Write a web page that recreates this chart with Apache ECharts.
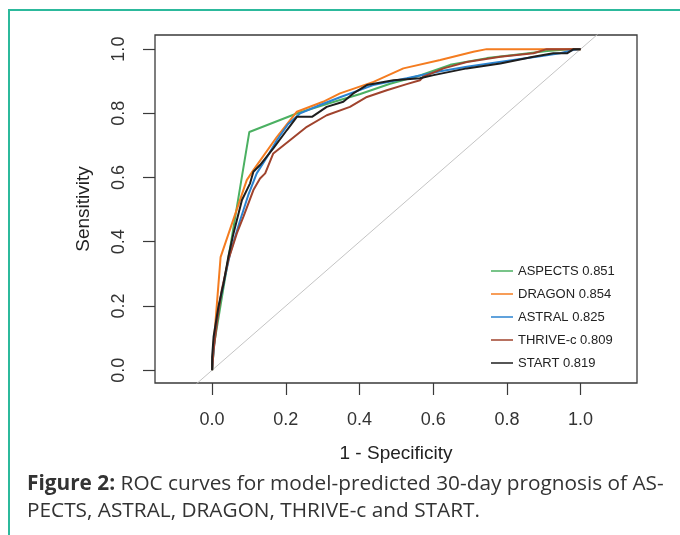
<!DOCTYPE html>
<html>
<head>
<meta charset="utf-8">
<script src="https://cdn.jsdelivr.net/npm/echarts@6/dist/echarts.min.js"></script>
<style>
  html, body { margin: 0; padding: 0; background: #fff; }
  #wrap { position: relative; width: 680px; height: 535px; overflow: hidden; }
  #chart { position: absolute; left: 0; top: 0; width: 680px; height: 535px; }
  #frame { position: absolute; left: 8px; top: 9px; width: 680px; height: 540px;
           border-left: 2px solid #2cb99c; border-top: 2px solid #2cb99c; pointer-events: none; }
  #caption { position: absolute; left: 27px; top: 469px; width: 650px; white-space: nowrap;
             font-family: "Open Sans", sans-serif; font-size: 20.8px; line-height: 27px; color: #333; }
</style>
</head>
<body>
<div id="wrap">
  <div id="chart"></div>
  <div id="frame"></div>
  <div id="caption"><b>Figure 2:</b> ROC curves for model-predicted 30-day prognosis of AS-<br>PECTS, ASTRAL, DRAGON, THRIVE-c and START.</div>
</div>
<script>
// ROC points: [1 - specificity, sensitivity]
const aspects = [[0,0],[0.005,0.078],[0.101,0.742],[0.233,0.801],[0.32,0.832],[0.402,0.86],
  [0.483,0.892],[0.564,0.918],[0.646,0.951],[0.746,0.972],[0.836,0.984],[0.909,0.994],[0.98,1],[1,1]];
const dragon = [[0,0],[0.003,0.07],[0.008,0.134],[0.023,0.352],[0.094,0.592],[0.112,0.623],
  [0.176,0.727],[0.23,0.805],[0.301,0.836],[0.347,0.862],[0.438,0.898],[0.519,0.94],
  [0.619,0.966],[0.709,0.992],[0.745,1],[1,1]];
const astral = [[0,0],[0.003,0.047],[0.008,0.109],[0.019,0.202],[0.033,0.28],[0.049,0.364],
  [0.076,0.467],[0.098,0.545],[0.121,0.613],[0.147,0.66],[0.176,0.717],[0.206,0.766],
  [0.239,0.8],[0.293,0.826],[0.347,0.85],[0.437,0.888],[0.528,0.909],[0.619,0.931],
  [0.691,0.945],[0.817,0.966],[0.89,0.978],[0.944,0.987],[0.98,0.997],[1,1]];
const thrive = [[0,0],[0.004,0.062],[0.014,0.156],[0.026,0.249],[0.044,0.343],[0.067,0.426],
  [0.085,0.478],[0.112,0.561],[0.13,0.597],[0.144,0.613],[0.166,0.675],[0.212,0.717],
  [0.257,0.758],[0.311,0.794],[0.374,0.82],[0.42,0.851],[0.474,0.872],[0.528,0.891],
  [0.564,0.903],[0.573,0.914],[0.628,0.94],[0.691,0.96],[0.782,0.976],[0.872,0.987],
  [0.908,1],[1,1]];
const start = [[0,0],[0,0.041],[0.004,0.104],[0.017,0.197],[0.031,0.27],[0.044,0.353],
  [0.058,0.426],[0.081,0.53],[0.103,0.582],[0.112,0.618],[0.13,0.639],[0.166,0.691],
  [0.203,0.748],[0.23,0.789],[0.271,0.789],[0.311,0.82],[0.356,0.836],[0.383,0.862],
  [0.42,0.888],[0.492,0.903],[0.564,0.909],[0.601,0.919],[0.691,0.94],[0.782,0.955],
  [0.872,0.976],[0.926,0.987],[0.963,0.987],[0.981,1],[1,1]];
const chance = [[-0.2,-0.2],[1.2,1.2]];

const models = ['ASPECTS', 'DRAGON', 'ASTRAL', 'THRIVE-c', 'START'];
const aucs = ['0.851', '0.854', '0.825', '0.809', '0.819'];
const colors = ['#4bb062', '#f47c20', '#2b83d0', '#a0432d', '#1e1e1e'];
const curves = [aspects, dragon, astral, thrive, start];
const ticks = [0, 0.2, 0.4, 0.6, 0.8, 1.0];

const names = models.map((m, i) => m + ' ' + aucs[i]);
const font = '"Liberation Sans", Arial, sans-serif';

const chart = echarts.init(document.getElementById('chart'), null, { renderer: 'canvas' });

const series = [{
  type: 'line', name: 'chance', data: chance, symbol: 'none', silent: true,
  lineStyle: { color: '#c4c4c4', width: 1 }, z: 1
}];
curves.forEach((c, i) => {
  series.push({
    type: 'line', name: names[i], data: c, symbol: 'none', showSymbol: false,
    lineStyle: { color: colors[i], width: 2 }, itemStyle: { color: colors[i] }, z: 2 + i
  });
});

chart.setOption({
  animation: false,
  backgroundColor: 'transparent',
  grid: { left: 155, top: 35, width: 482, height: 348, show: true,
          borderColor: '#3a3a3a', borderWidth: 1.3, backgroundColor: 'transparent' },
  legend: {
    data: names, orient: 'vertical', left: 491, top: 264,
    icon: 'rect', itemWidth: 22, itemHeight: 1.5, itemGap: 9, padding: 0,
    textStyle: { fontFamily: font, fontSize: 13, color: '#222', lineHeight: 14 }
  },
  xAxis: {
    type: 'value', min: -0.155, max: 1.153,
    name: '1 - Specificity', nameLocation: 'middle', nameGap: 61,
    nameTextStyle: { fontFamily: font, fontSize: 19, color: '#222' },
    axisLine: { show: false, onZero: false },
    splitLine: { show: false },
    axisTick: { show: true, length: 12, customValues: ticks, lineStyle: { color: '#3a3a3a', width: 1.2 } },
    axisLabel: { customValues: ticks, margin: 28, fontFamily: font, fontSize: 18, color: '#333',
                 formatter: v => v.toFixed(1) }
  },
  yAxis: {
    type: 'value', min: -0.04, max: 1.044,
    name: 'Sensitivity', nameLocation: 'middle', nameGap: 62, nameRotate: 90,
    nameTextStyle: { fontFamily: font, fontSize: 19, color: '#222' },
    axisLine: { show: false, onZero: false },
    splitLine: { show: false },
    axisTick: { show: true, length: 12, customValues: ticks, lineStyle: { color: '#3a3a3a', width: 1.2 } },
    axisLabel: { customValues: ticks, margin: 27, rotate: 90, fontFamily: font, fontSize: 18, color: '#333',
                 formatter: v => v.toFixed(1) }
  },
  series: series
});
</script>
</body>
</html>
